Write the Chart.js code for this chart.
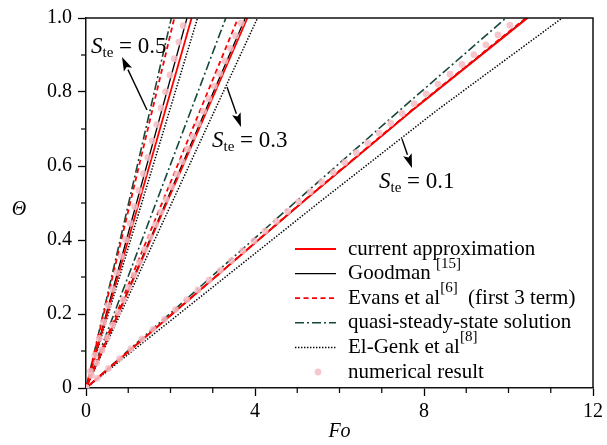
<!DOCTYPE html>
<html>
<head>
<meta charset="utf-8">
<script src="https://cdn.jsdelivr.net/npm/chart.js@4/dist/chart.umd.min.js"></script>
<style>
  body { margin: 0; background: #fff; }
</style>
</head>
<body>
<canvas id="grafico" width="607" height="445"></canvas>
<script>
// ---- datos (Fo para cada valor de Theta) ----
const thetaRecta = [0, 1];
const thetaCurva = [0, 0.25, 0.5, 0.75, 1];

// Ste = 0.5
const ste05Current = [0, 2.50];
const ste05Goodman = [0, 2.39];
const ste05Evans = [0, 2.09];
const ste05Quasi = [0, 2.02];
const ste05ElGenk = [0, 2.64];

// Ste = 0.3
const ste03Current = [0, 3.82];
const ste03Goodman = [0, 3.77];
const ste03Evans = [0, 3.60];
const ste03Quasi = [0, 3.31];
const ste03ElGenk = [0, 4.06];

// Ste = 0.1
const ste01Current = [0, 2.55, 5.10, 7.72, 10.45];
const ste01Goodman = [0, 2.55, 5.10, 7.71, 10.43];
const ste01Evans = [0, 2.55, 5.09, 7.70, 10.41];
const ste01Quasi = [0, 2.47, 4.93, 7.42, 9.94];
const ste01ElGenk = [0, 2.75, 5.50, 8.30, 11.27];

// resultado numerico (puntos)
const num05Fo = [0, 0.105, 0.209, 0.314, 0.418, 0.523, 0.628, 0.732, 0.837, 0.941, 1.046, 1.151, 1.255, 1.360, 1.464, 1.569, 1.674, 1.778, 1.883, 1.987, 2.092, 2.197, 2.301];
const num05Theta = [0, 0.045, 0.089, 0.134, 0.178, 0.223, 0.267, 0.312, 0.356, 0.401, 0.445, 0.490, 0.534, 0.579, 0.623, 0.668, 0.712, 0.757, 0.801, 0.846, 0.890, 0.935, 0.979];

const num03Fo = [0, 0.127, 0.253, 0.380, 0.506, 0.633, 0.759, 0.886, 1.012, 1.139, 1.265, 1.392, 1.518, 1.645, 1.771, 1.898, 2.024, 2.151, 2.277, 2.404, 2.530, 2.657, 2.783, 2.910, 3.036, 3.163, 3.289, 3.416, 3.542, 3.669];
const num03Theta = [0, 0.034, 0.068, 0.102, 0.136, 0.170, 0.204, 0.238, 0.272, 0.306, 0.340, 0.374, 0.408, 0.442, 0.476, 0.510, 0.544, 0.578, 0.612, 0.646, 0.680, 0.714, 0.748, 0.782, 0.816, 0.850, 0.884, 0.918, 0.952, 0.986];

const num01Fo = [0, 0.265, 0.530, 0.795, 1.060, 1.325, 1.590, 1.855, 2.120, 2.385, 2.650, 2.915, 3.180, 3.444, 3.710, 3.975, 4.239, 4.505, 4.770, 5.034, 5.306, 5.579, 5.851, 6.123, 6.395, 6.668, 6.940, 7.212, 7.484, 7.765, 8.048, 8.332, 8.615, 8.898, 9.182, 9.465, 9.750, 10.033];
const num01Theta = [0, 0.0265, 0.053, 0.0795, 0.106, 0.1325, 0.159, 0.1855, 0.212, 0.2385, 0.265, 0.2915, 0.318, 0.3445, 0.371, 0.3975, 0.424, 0.4505, 0.477, 0.5035, 0.530, 0.5565, 0.583, 0.6095, 0.636, 0.6625, 0.689, 0.7155, 0.742, 0.7685, 0.795, 0.8215, 0.848, 0.8745, 0.901, 0.9275, 0.954, 0.9805];

const xTicks = [0, 4, 8, 12];

// ---- estilos ----
const estilos = {
  current: { color: "#ff0000", dash: [], width: 1.8 },
  goodman: { color: "#000000", dash: [], width: 1.3 },
  evans: { color: "#ff0000", dash: [5, 3.5], width: 1.8 },
  quasi: { color: "#17473b", dash: [9, 3, 2, 3], width: 1.6 },
  elgenk: { color: "#000000", dash: [1.4, 1.6], width: 1.5 }
};
const colorPuntos = "rgba(244,190,197,0.85)";

function pares(fo, theta) {
  return fo.map((v, i) => ({ x: v, y: theta[i] }));
}

function linea(fo, theta, est) {
  const e = estilos[est];
  return {
    data: pares(fo, theta),
    showLine: true,
    borderColor: e.color,
    borderWidth: e.width,
    borderDash: e.dash,
    pointRadius: 0,
    fill: false,
    tension: 0
  };
}

function puntos(fo, theta) {
  return {
    data: pares(fo, theta),
    showLine: false,
    pointRadius: 3.4,
    pointBackgroundColor: colorPuntos,
    pointBorderWidth: 0,
    borderColor: colorPuntos
  };
}

// el primer dataset se dibuja encima
const datasets = [
  puntos(num05Fo, num05Theta),
  puntos(num03Fo, num03Theta),
  puntos(num01Fo, num01Theta),
  linea(ste05Current, thetaRecta, "current"),
  linea(ste03Current, thetaRecta, "current"),
  linea(ste01Current, thetaCurva, "current"),
  linea(ste05Evans, thetaRecta, "evans"),
  linea(ste03Evans, thetaRecta, "evans"),
  linea(ste01Evans, thetaCurva, "evans"),
  linea(ste05Goodman, thetaRecta, "goodman"),
  linea(ste03Goodman, thetaRecta, "goodman"),
  linea(ste01Goodman, thetaCurva, "goodman"),
  linea(ste05Quasi, thetaRecta, "quasi"),
  linea(ste03Quasi, thetaRecta, "quasi"),
  linea(ste01Quasi, thetaCurva, "quasi"),
  linea(ste05ElGenk, thetaRecta, "elgenk"),
  linea(ste03ElGenk, thetaRecta, "elgenk"),
  linea(ste01ElGenk, thetaCurva, "elgenk")
];

const serif = "'Liberation Serif', 'Times New Roman', serif";

function esMayorY(v) {
  return Math.abs(Math.round(v * 10) % 2) === 0;
}

// texto con superindice
function textoRico(ctx, partes, x, y) {
  let px = x;
  partes.forEach(p => {
    if (p.sup) {
      ctx.font = "15px " + serif;
      ctx.fillText(p.t, px, y - 10);
    } else {
      ctx.font = (p.italic ? "italic " : "") + (p.size || 21) + "px " + serif;
      ctx.fillText(p.t, px, y + (p.dy || 0));
    }
    px += ctx.measureText(p.t).width;
  });
}

function flecha(ctx, x1, y1, x2, y2) {
  const ang = Math.atan2(y2 - y1, x2 - x1);
  const largo = 14, ancho = 4.5;
  const bx = x2 - largo * Math.cos(ang), by = y2 - largo * Math.sin(ang);
  ctx.beginPath();
  ctx.moveTo(x1, y1);
  ctx.lineTo(bx, by);
  ctx.lineWidth = 1.4;
  ctx.strokeStyle = "#000";
  ctx.setLineDash([]);
  ctx.stroke();
  ctx.beginPath();
  ctx.moveTo(x2, y2);
  ctx.lineTo(bx + ancho * Math.sin(ang), by - ancho * Math.cos(ang));
  ctx.lineTo(bx + 3 * Math.cos(ang), by + 3 * Math.sin(ang));
  ctx.lineTo(bx - ancho * Math.sin(ang), by + ancho * Math.cos(ang));
  ctx.closePath();
  ctx.fillStyle = "#000";
  ctx.fill();
}

function etiquetaSte(ctx, x, y, valor) {
  ctx.fillStyle = "#000";
  ctx.textBaseline = "alphabetic";
  ctx.textAlign = "left";
  textoRico(ctx, [
    { t: "S", italic: true, size: 23 },
    { t: "te", size: 15, dy: 4 },
    { t: " = " + valor, size: 23 }
  ], x, y);
}

const extras = {
  id: "extras",
  afterDraw(chart) {
    const ctx = chart.ctx;
    const a = chart.chartArea;
    const xs = chart.scales.x, ys = chart.scales.y;
    ctx.save();
    // marco superior y derecho
    ctx.strokeStyle = "#111";
    ctx.lineWidth = 1.5;
    ctx.setLineDash([]);
    ctx.beginPath();
    ctx.moveTo(a.left, a.top);
    ctx.lineTo(a.right, a.top);
    ctx.lineTo(a.right, a.bottom);
    ctx.stroke();

    // ticks menores
    ctx.lineWidth = 1.3;
    xs.ticks.forEach(t => {
      if (t.value % 4 !== 0) {
        const px = xs.getPixelForValue(t.value);
        ctx.beginPath();
        ctx.moveTo(px, a.bottom);
        ctx.lineTo(px, a.bottom + 5);
        ctx.stroke();
      }
    });
    ys.ticks.forEach(t => {
      if (!esMayorY(t.value)) {
        const py = ys.getPixelForValue(t.value);
        ctx.beginPath();
        ctx.moveTo(a.left, py);
        ctx.lineTo(a.left - 5, py);
        ctx.stroke();
      }
    });

    // titulos de ejes
    ctx.fillStyle = "#000";
    ctx.textAlign = "center";
    ctx.textBaseline = "middle";
    ctx.font = "italic 20px " + serif;
    ctx.fillText("\u0398", 19, 210);
    ctx.fillText("Fo", (a.left + a.right) / 2, 432);

    // anotaciones
    etiquetaSte(ctx, 91, 53, "0.5");
    etiquetaSte(ctx, 212, 147, "0.3");
    etiquetaSte(ctx, 379, 188, "0.1");
    flecha(ctx, 147, 110, 122, 57);
    flecha(ctx, 227, 87, 241, 127);
    flecha(ctx, 402, 139, 412, 168);

    // leyenda
    const filas = [
      { est: "current", partes: [{ t: "current approximation" }] },
      { est: "goodman", partes: [{ t: "Goodman " }, { t: "[15]", sup: true }] },
      { est: "evans", partes: [{ t: "Evans et al" }, { t: "[6]", sup: true }, { t: "  (first 3 term)" }] },
      { est: "quasi", partes: [{ t: "quasi-steady-state solution" }] },
      { est: "elgenk", partes: [{ t: "El-Genk et al" }, { t: "[8]", sup: true }] },
      { est: "puntos", partes: [{ t: "numerical result" }] }
    ];
    ctx.textAlign = "left";
    ctx.textBaseline = "middle";
    filas.forEach((f, i) => {
      const y = 249 + i * 24.6;
      if (f.est === "puntos") {
        ctx.beginPath();
        ctx.arc(318, y, 3.4, 0, Math.PI * 2);
        ctx.fillStyle = colorPuntos;
        ctx.fill();
      } else {
        const e = estilos[f.est];
        ctx.beginPath();
        ctx.setLineDash(e.dash);
        ctx.strokeStyle = e.color;
        ctx.lineWidth = e.width;
        ctx.moveTo(295, y);
        ctx.lineTo(336, y);
        ctx.stroke();
        ctx.setLineDash([]);
      }
      ctx.fillStyle = "#000";
      textoRico(ctx, f.partes, 348, y);
    });
    ctx.restore();
  }
};

new Chart(document.getElementById("grafico"), {
  type: "scatter",
  data: { datasets },
  options: {
    responsive: false,
    animation: false,
    devicePixelRatio: 1,
    layout: { padding: { left: 0, top: 16, right: 11, bottom: 0 } },
    plugins: { legend: { display: false }, tooltip: { enabled: false } },
    scales: {
      x: {
        type: "linear",
        min: 0,
        max: 12,
        afterFit(s) { s.height = 57; },
        afterBuildTicks(s) {
          s.ticks = [];
          for (let v = 0; v <= 12; v++) s.ticks.push({ value: v });
        },
        ticks: {
          autoSkip: false,
          maxRotation: 0,
          padding: 4,
          color: "#000",
          font: { family: serif, size: 20 },
          callback: v => xTicks.includes(v) ? String(v) : ""
        },
        grid: {
          drawOnChartArea: false,
          tickLength: 8,
          tickWidth: 1.3,
          tickColor: c => (c.tick && c.tick.value % 4 === 0) ? "#000" : "rgba(0,0,0,0)"
        },
        border: { color: "#111", width: 1.5 }
      },
      y: {
        type: "linear",
        min: 0,
        max: 1,
        afterFit(s) { s.width = 86; },
        afterBuildTicks(s) {
          s.ticks = [];
          for (let k = 0; k <= 10; k++) s.ticks.push({ value: k / 10 });
        },
        ticks: {
          autoSkip: false,
          padding: 6,
          color: "#000",
          font: { family: serif, size: 20 },
          callback: v => esMayorY(v) ? (v === 0 ? "0" : v.toFixed(1)) : ""
        },
        grid: {
          drawOnChartArea: false,
          tickLength: 8,
          tickWidth: 1.3,
          tickColor: c => (c.tick && esMayorY(c.tick.value)) ? "#000" : "rgba(0,0,0,0)"
        },
        border: { color: "#111", width: 1.5 }
      }
    }
  },
  plugins: [extras]
});
</script>
</body>
</html>
